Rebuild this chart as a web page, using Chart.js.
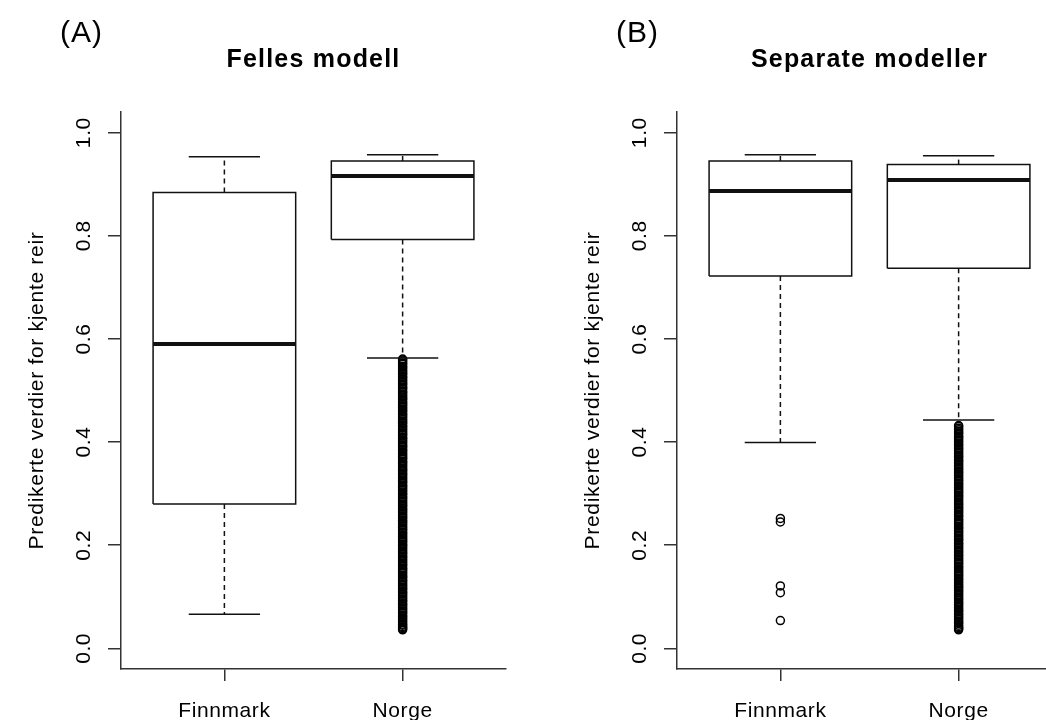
<!DOCTYPE html>
<html>
<head>
<meta charset="utf-8">
<title>Predikerte verdier for kjente reir</title>
<script src="https://cdn.jsdelivr.net/npm/chart.js@4/dist/chart.umd.min.js"></script>
<style>
  html, body { margin: 0; padding: 0; background: #fff; overflow: hidden; }
  #wrap { position: relative; width: 1046px; height: 720px; overflow: hidden; }
  #wrap canvas { position: absolute; top: 0; }
  #panelA { left: 0; }
  #panelB { left: 556px; }
</style>
</head>
<body>
<div id="wrap">
  <canvas id="panelA" width="556" height="720"></canvas>
  <canvas id="panelB" width="556" height="720"></canvas>
</div>
<script>
(function () {
  "use strict";

  const categories = ["Finnmark", "Norge"];
  const yTickValues = [0, 0.2, 0.4, 0.6, 0.8, 1.0];
  const yTickLabels = ["0.0", "0.2", "0.4", "0.6", "0.8", "1.0"];
  const yLabel = "Predikerte verdier for kjente reir";

  // (A) Felles modell
  const fellesLow = [0.066, 0.563];
  const fellesQ1 = [0.28, 0.793];
  const fellesMedian = [0.59, 0.916];
  const fellesQ3 = [0.884, 0.945];
  const fellesHigh = [0.953, 0.957];
  const fellesOutFinnmark = [];
  const fellesOutNorge = [
    0.561, 0.559, 0.556, 0.553, 0.551, 0.547, 0.545, 0.542, 0.539, 0.536,
    0.533, 0.531, 0.527, 0.525, 0.522, 0.519, 0.516, 0.513, 0.511, 0.507,
    0.505, 0.502, 0.498, 0.496, 0.493, 0.490, 0.487, 0.484, 0.482, 0.478,
    0.476, 0.473, 0.470, 0.467, 0.464, 0.461, 0.459, 0.455, 0.453, 0.450,
    0.447, 0.444, 0.441, 0.438, 0.436, 0.432, 0.430, 0.427, 0.424, 0.421,
    0.418, 0.415, 0.413, 0.409, 0.407, 0.404, 0.401, 0.398, 0.395, 0.392,
    0.390, 0.386, 0.384, 0.381, 0.378, 0.375, 0.372, 0.369, 0.367, 0.363,
    0.361, 0.358, 0.355, 0.352, 0.349, 0.346, 0.344, 0.340, 0.338, 0.335,
    0.332, 0.329, 0.326, 0.323, 0.321, 0.317, 0.315, 0.312, 0.309, 0.306,
    0.303, 0.300, 0.298, 0.294, 0.292, 0.289, 0.286, 0.283, 0.280, 0.277,
    0.275, 0.271, 0.269, 0.266, 0.263, 0.260, 0.257, 0.254, 0.252, 0.248,
    0.246, 0.243, 0.240, 0.237, 0.234, 0.231, 0.229, 0.225, 0.223, 0.220,
    0.217, 0.214, 0.211, 0.208, 0.206, 0.202, 0.200, 0.197, 0.194, 0.191,
    0.188, 0.185, 0.183, 0.179, 0.177, 0.174, 0.171, 0.168, 0.165, 0.162,
    0.160, 0.156, 0.154, 0.151, 0.148, 0.145, 0.142, 0.139, 0.137, 0.133,
    0.131, 0.128, 0.125, 0.122, 0.119, 0.116, 0.114, 0.110, 0.108, 0.105,
    0.102, 0.099, 0.096, 0.093, 0.091, 0.087, 0.085, 0.082, 0.079, 0.076,
    0.073, 0.070, 0.068, 0.064, 0.062, 0.059, 0.056, 0.053, 0.050, 0.047,
    0.045, 0.042, 0.040, 0.038, 0.036
  ];

  // (B) Separate modeller
  const separateLow = [0.399, 0.443];
  const separateQ1 = [0.722, 0.737];
  const separateMedian = [0.887, 0.908];
  const separateQ3 = [0.945, 0.938];
  const separateHigh = [0.957, 0.955];
  const separateOutFinnmark = [0.252, 0.245, 0.121, 0.108, 0.054];
  const separateOutNorge = [
    0.432, 0.430, 0.427, 0.424, 0.421, 0.418, 0.416, 0.412, 0.410, 0.407,
    0.404, 0.401, 0.398, 0.395, 0.393, 0.389, 0.387, 0.384, 0.381, 0.378,
    0.375, 0.372, 0.370, 0.366, 0.364, 0.361, 0.358, 0.355, 0.352, 0.349,
    0.347, 0.343, 0.341, 0.338, 0.335, 0.332, 0.329, 0.326, 0.324, 0.320,
    0.318, 0.315, 0.312, 0.309, 0.306, 0.303, 0.301, 0.297, 0.295, 0.292,
    0.289, 0.286, 0.283, 0.280, 0.278, 0.274, 0.272, 0.269, 0.266, 0.263,
    0.260, 0.257, 0.255, 0.251, 0.249, 0.246, 0.243, 0.240, 0.237, 0.234,
    0.232, 0.228, 0.226, 0.223, 0.220, 0.217, 0.214, 0.211, 0.209, 0.205,
    0.203, 0.200, 0.197, 0.194, 0.191, 0.188, 0.186, 0.182, 0.180, 0.177,
    0.174, 0.171, 0.168, 0.165, 0.163, 0.159, 0.157, 0.154, 0.151, 0.148,
    0.145, 0.142, 0.140, 0.136, 0.134, 0.131, 0.128, 0.125, 0.122, 0.119,
    0.117, 0.113, 0.111, 0.108, 0.105, 0.102, 0.099, 0.096, 0.094, 0.090,
    0.088, 0.085, 0.082, 0.079, 0.076, 0.073, 0.071, 0.067, 0.065, 0.062,
    0.059, 0.056, 0.053, 0.050, 0.048, 0.045, 0.042, 0.040, 0.038, 0.036
  ];

  const FONT = '"Liberation Sans", Arial, Helvetica, sans-serif';
  const INK = "#111";
  const AXIS = "#333";
  const BOX_WIDTH = 0.8;
  const CAP_WIDTH = 0.4;

  function segment(points, width, dash) {
    return {
      data: points.map((p) => ({ x: p[0], y: p[1] })),
      showLine: true,
      borderColor: INK,
      borderWidth: width,
      borderDash: dash || [],
      borderCapStyle: "butt",
      borderJoinStyle: "miter",
      pointRadius: 0,
      fill: false,
      tension: 0
    };
  }

  function boxDatasets(low, q1, med, q3, high, outliers) {
    const ds = [];
    categories.forEach((name, i) => {
      const x = i + 1;
      const h = BOX_WIDTH / 2;
      const c = CAP_WIDTH / 2;
      ds.push(segment([[x, q3[i]], [x, high[i]]], 1.5, [5, 4]));
      ds.push(segment([[x, q1[i]], [x, low[i]]], 1.5, [5, 4]));
      ds.push(segment([[x - c, high[i]], [x + c, high[i]]], 1.5));
      ds.push(segment([[x - c, low[i]], [x + c, low[i]]], 1.5));
      ds.push(segment([[x - h, q1[i]], [x + h, q1[i]], [x + h, q3[i]], [x - h, q3[i]], [x - h, q1[i]]], 1.5));
      ds.push(segment([[x - h, med[i]], [x + h, med[i]]], 4));
      ds.push({
        data: outliers[i].map((v) => ({ x, y: v })),
        showLine: false,
        pointStyle: "circle",
        pointRadius: 4,
        pointBorderWidth: 1.5,
        pointBorderColor: "#000",
        pointBackgroundColor: "rgba(0,0,0,0)"
      });
    });
    return ds;
  }

  function panelText(tag, title) {
    return {
      id: "panelText",
      beforeDraw(chart) {
        // slightly wider glyph spacing, like the original R output
        chart.ctx.letterSpacing = "0.6px";
      },
      afterDraw(chart) {
        const { ctx, chartArea, scales } = chart;
        ctx.save();
        ctx.fillStyle = "#000";
        ctx.textBaseline = "alphabetic";

        ctx.font = "30px " + FONT;
        ctx.letterSpacing = "1px";
        ctx.textAlign = "left";
        ctx.fillText(tag, 60, 42);

        ctx.font = "bold 25px " + FONT;
        ctx.letterSpacing = "1.2px";
        ctx.textAlign = "center";
        ctx.fillText(title, (chartArea.left + chartArea.right) / 2, 67);

        ctx.font = "21px " + FONT;
        ctx.letterSpacing = "0.6px";
        yTickValues.forEach((v, k) => {
          const y = scales.y.getPixelForValue(v);
          ctx.save();
          ctx.translate(90, y);
          ctx.rotate(-Math.PI / 2);
          ctx.fillText(yTickLabels[k], 0, 0);
          ctx.restore();
        });

        ctx.letterSpacing = "0.7px";
        ctx.save();
        ctx.translate(43, (chartArea.top + chartArea.bottom) / 2);
        ctx.rotate(-Math.PI / 2);
        ctx.fillText(yLabel, 0, 0);
        ctx.restore();

        ctx.restore();
        ctx.letterSpacing = "0px";
      }
    };
  }

  function makeChart(canvasId, tag, title, datasets) {
    return new Chart(document.getElementById(canvasId), {
      type: "scatter",
      data: { datasets },
      options: {
        responsive: false,
        animation: false,
        events: [],
        layout: { padding: { top: 112, right: 50, bottom: 0, left: 0 } },
        plugins: {
          legend: { display: false },
          tooltip: { enabled: false },
          title: { display: false }
        },
        scales: {
          x: {
            type: "linear",
            min: 0.42,
            max: 2.58,
            afterBuildTicks: (s) => { s.ticks = categories.map((_, i) => ({ value: i + 1 })); },
            afterFit: (s) => { s.height = 51; },
            grid: { display: true, drawOnChartArea: false, drawTicks: true, tickLength: 12, color: AXIS, lineWidth: 1.5 },
            border: { display: true, color: AXIS, width: 1.5 },
            ticks: {
              autoSkip: false,
              maxRotation: 0,
              padding: 18,
              color: "#000",
              font: { size: 21, family: FONT },
              callback: (v) => categories[Math.round(v) - 1]
            }
          },
          y: {
            type: "linear",
            min: -0.04,
            max: 1.04,
            afterBuildTicks: (s) => { s.ticks = yTickValues.map((v) => ({ value: v })); },
            afterFit: (s) => { s.width = 121; },
            grid: { display: true, drawOnChartArea: false, drawTicks: true, tickLength: 13, color: AXIS, lineWidth: 1.5 },
            border: { display: true, color: AXIS, width: 1.5 },
            ticks: { display: false }
          }
        }
      },
      plugins: [panelText(tag, title)]
    });
  }

  makeChart("panelA", "(A)", "Felles modell",
    boxDatasets(fellesLow, fellesQ1, fellesMedian, fellesQ3, fellesHigh, [fellesOutFinnmark, fellesOutNorge]));
  makeChart("panelB", "(B)", "Separate modeller",
    boxDatasets(separateLow, separateQ1, separateMedian, separateQ3, separateHigh, [separateOutFinnmark, separateOutNorge]));
})();
</script>
</body>
</html>
